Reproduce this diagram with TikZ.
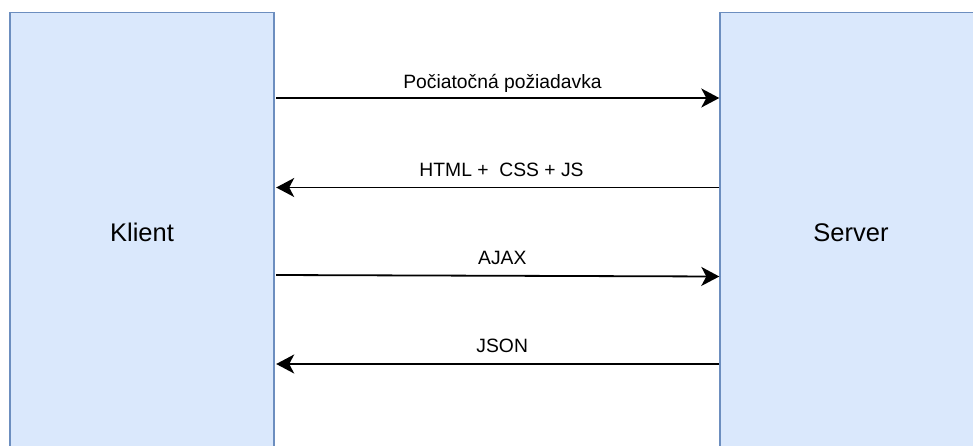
\documentclass[tikz,border=0pt]{standalone}
\usepackage{fontspec}
\setmainfont{Liberation Sans}
\usetikzlibrary{arrows.meta}
\definecolor{boxfill}{HTML}{DAE8FC}
\definecolor{boxdraw}{HTML}{6C8EBF}
\begin{document}
\begin{tikzpicture}[x=1pt,y=-1pt,
  party/.style={draw=boxdraw,fill=boxfill,line width=1.4pt,minimum height=440pt,inner sep=0pt,font=\fontsize{25.5}{28}\selectfont},
  msg/.style={line width=1.8pt,-{Stealth[length=18pt,width=19pt,inset=5pt]}},
  lbl/.style={anchor=base,inner sep=0pt,font=\fontsize{19.3}{22}\selectfont}]
\useasboundingbox (0,0) rectangle (973,445);
\clip (0,0) rectangle (973,445);
\node[party,minimum width=264pt] (K) at (142,232.5) {Klient};
\node[party,minimum width=262pt] (S) at (851,232.5) {Server};
\draw[msg] (K.east |- 0,98) ++(1.5,0) coordinate (a1) -- (S.west |- 0,98);
\draw[msg] (S.west |- 0,187.5) -- ([xshift=1.5pt]K.east |- 0,187.5);
\draw[msg] ([xshift=1.5pt]K.east |- 0,275) -- (S.west |- 0,276.5);
\draw[msg] (S.west |- 0,364) -- ([xshift=1.5pt]K.east |- 0,364);
\node[lbl] (l1) at (502.5,88) {Počiatočná požiadavka};
\node[lbl] (l2) at (501.5,176.7) {HTML +\ \ CSS + JS};
\node[lbl] (l3) at (502.3,264) {AJAX};
\node[lbl] (l4) at (502.2,352.3) {JSON};
\end{tikzpicture}
\end{document}
